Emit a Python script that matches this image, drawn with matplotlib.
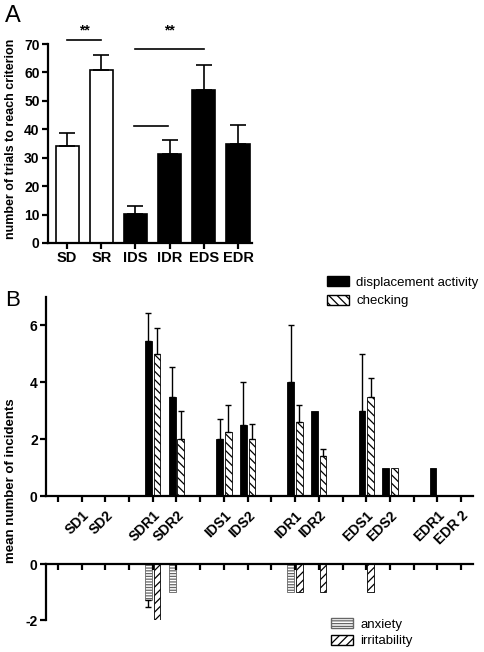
import numpy as np
import matplotlib.pyplot as plt
from matplotlib.patches import Patch

plt.rcParams['font.family'] = ['Liberation Sans', 'DejaVu Sans']
plt.rcParams['hatch.linewidth'] = 0.9

# panel A: trials to criterion
stages = ['SD', 'SR', 'IDS', 'IDR', 'EDS', 'EDR']
trials = [34.2, 61.0, 10.3, 31.2, 53.7, 35.0]
trials_err = [4.6, 5.2, 2.8, 5.0, 8.8, 6.4]
stage_colors = ['white', 'white', 'black', 'black', 'black', 'black']

# panel B: incidents per phase ('' = gap between stages)
phases = ['', 'SD1', 'SD2', '', 'SDR1', 'SDR2', '', 'IDS1', 'IDS2', '',
          'IDR1', 'IDR2', '', 'EDS1', 'EDS2', '', 'EDR1', 'EDR 2']
displacement = [0, 0, 0, 0, 5.45, 3.5, 0, 2.0, 2.5, 0, 4.0, 3.0, 0, 3.0, 1.0, 0, 1.0, 0]
displacement_err = [0, 0, 0, 0, 1.0, 1.05, 0, 0.7, 1.5, 0, 2.0, 0, 0, 2.0, 0, 0, 0, 0]
checking = [0, 0, 0, 0, 5.0, 2.0, 0, 2.25, 2.0, 0, 2.6, 1.42, 0, 3.5, 1.0, 0, 0, 0]
checking_err = [0, 0, 0, 0, 0.9, 1.0, 0, 0.95, 0.55, 0, 0.6, 0.22, 0, 0.65, 0, 0, 0, 0]
anxiety = [0, 0, 0, 0, -1.27, -1.0, 0, 0, 0, 0, -1.0, 0, 0, 0, 0, 0, 0, 0]
anxiety_err = [0, 0, 0, 0, 0.28, 0, 0, 0, 0, 0, 0, 0, 0, 0, 0, 0, 0, 0]
irritability = [0, 0, 0, 0, -2.0, 0, 0, 0, 0, 0, -1.0, -1.0, 0, -1.0, 0, 0, 0, 0]

fig = plt.figure(figsize=(4.84, 6.52), dpi=100)

# ---------- panel A ----------
axA = fig.add_axes([48/484, 1-243/652, 204/484, 199/652])
xa = np.arange(len(stages))
axA.bar(xa, trials, width=0.68, color=stage_colors, edgecolor='black', linewidth=1.2)
axA.errorbar(xa, trials, yerr=[np.zeros(len(xa)), trials_err], fmt='none',
             ecolor='black', elinewidth=1.2, capsize=6, capthick=1.2)
axA.set_xlim(-0.56, 5.41)
axA.set_ylim(0, 70)
axA.set_yticks(range(0, 71, 10))
axA.set_xticks(xa)
axA.set_xticklabels(stages, fontsize=10.5, fontweight='bold')
for lab in axA.get_yticklabels():
    lab.set_fontweight('bold')
    lab.set_fontsize(10)
for s in ['top', 'right']:
    axA.spines[s].set_visible(False)
for s in ['left', 'bottom']:
    axA.spines[s].set_linewidth(1.6)
axA.tick_params(direction='out', length=4, width=1.6, pad=2)
fig.text(11/484, 1-139/652, 'number of trials to reach criterion', rotation=90,
         ha='center', va='center', fontsize=9, fontweight='bold')

# significance bars
axA.plot([0, 1], [71.3, 71.3], color='black', lw=1.2, clip_on=False)
axA.text(0.5, 72.3, '**', ha='center', va='bottom', fontsize=10, fontweight='bold')
axA.plot([2, 4], [68.2, 68.2], color='black', lw=1.2, clip_on=False)
axA.text(3, 72.3, '**', ha='center', va='bottom', fontsize=10, fontweight='bold')
axA.plot([1.95, 2.95], [41, 41], color='black', lw=1.2)
fig.text(5/484, 1-16/652, 'A', fontsize=17, va='center', ha='left')

# ---------- panel B (positive) ----------
xb = np.arange(len(phases))
w = 0.28
off = 0.18
axB = fig.add_axes([46/484, 1-496/652, 427/484, 199/652])
axB.bar(xb - off, displacement, width=w, color='black', edgecolor='black', linewidth=0.6)
axB.bar(xb + off, checking, width=w, color='white', edgecolor='black', linewidth=0.6,
        hatch='\\\\\\\\')
for xi, v, e in zip(xb, displacement, displacement_err):
    if e > 0:
        axB.errorbar(xi - off, v, yerr=[[0], [e]], fmt='none', ecolor='black',
                     elinewidth=1.0, capsize=2, capthick=1.0)
for xi, v, e in zip(xb, checking, checking_err):
    if e > 0:
        axB.errorbar(xi + off, v, yerr=[[0], [e]], fmt='none', ecolor='black',
                     elinewidth=1.0, capsize=2, capthick=1.0)
axB.set_xlim(-0.5, 17.5)
axB.set_ylim(0, 7)
axB.set_yticks([0, 2, 4, 6])
axB.set_xticks(xb)
axB.set_xticklabels(phases, rotation=45, ha='right', rotation_mode='anchor',
                    fontsize=10, fontweight='bold')
for lab in axB.get_yticklabels():
    lab.set_fontweight('bold')
    lab.set_fontsize(10)
for s in ['top', 'right']:
    axB.spines[s].set_visible(False)
for s in ['left', 'bottom']:
    axB.spines[s].set_linewidth(1.6)
axB.tick_params(direction='out', length=4, width=1.6, pad=2)
axB.tick_params(axis='x', pad=5)

leg1 = [Patch(facecolor='black', edgecolor='black', label='displacement activity'),
        Patch(facecolor='white', edgecolor='black', hatch='\\\\\\\\', label='checking')]
fig.legend(handles=leg1, loc='upper left', bbox_to_anchor=(327/484, 1-276/652),
           frameon=False, fontsize=9.5, handlelength=1.7, handleheight=0.8,
           handletextpad=0.5, borderpad=0, borderaxespad=0, labelspacing=0.45)

# ---------- panel B (negative) ----------
axC = fig.add_axes([46/484, 1-620/652, 427/484, 56/652])
axC.bar(xb - off, anxiety, width=w, color='white', edgecolor='0.4', linewidth=0.6,
        hatch='------')
axC.bar(xb + off, irritability, width=w, color='white', edgecolor='black', linewidth=0.6,
        hatch='////')
for xi, v, e in zip(xb, anxiety, anxiety_err):
    if e > 0:
        axC.errorbar(xi - off, v, yerr=[[e], [0]], fmt='none', ecolor='black',
                     elinewidth=1.0, capsize=2, capthick=1.0)
axC.set_xlim(-0.5, 17.5)
axC.set_ylim(-2, 0)
axC.set_yticks([-2, 0])
axC.set_yticklabels(['-2', '0'], fontsize=10, fontweight='bold')
axC.xaxis.set_ticks_position('top')
axC.set_xticks(xb)
axC.set_xticklabels([])
for s in ['bottom', 'right']:
    axC.spines[s].set_visible(False)
for s in ['left', 'top']:
    axC.spines[s].set_linewidth(1.6)
axC.tick_params(axis='x', direction='in', length=4, width=1.6)
axC.tick_params(axis='y', direction='out', length=4, width=1.6, pad=2)

leg2 = [Patch(facecolor='white', edgecolor='0.4', hatch='------', label='anxiety'),
        Patch(facecolor='white', edgecolor='black', hatch='////', label='irritability')]
fig.legend(handles=leg2, loc='upper left', bbox_to_anchor=(331/484, 1-618/652),
           frameon=False, fontsize=9.5, handlelength=1.7, handleheight=0.8,
           handletextpad=0.5, borderpad=0, borderaxespad=0, labelspacing=0.3)

fig.text(11/484, 1-481/652, 'mean number of incidents', rotation=90, ha='center',
         va='center', fontsize=9.5, fontweight='bold')
fig.text(5/484, 1-300/652, 'B', fontsize=16, va='center', ha='left')

fig.savefig('out.png', dpi=100)
